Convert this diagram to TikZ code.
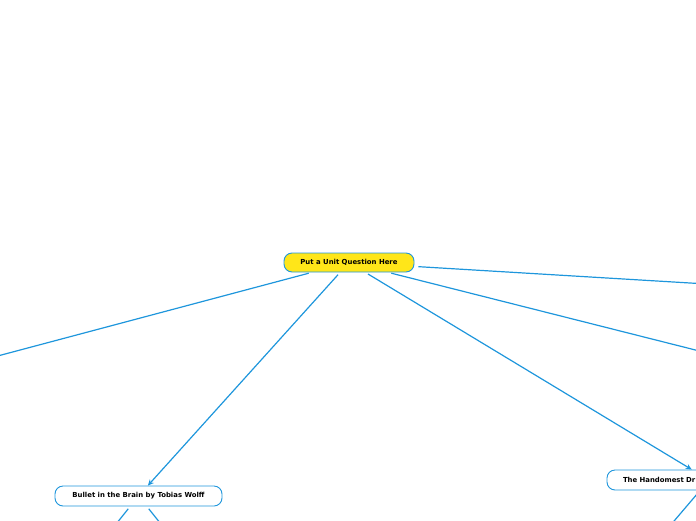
\documentclass[tikz,border=0pt]{standalone}
\usepackage{fontspec}
\setmainfont{DejaVu Sans}
\usetikzlibrary{arrows.meta}
\definecolor{lineblue}{HTML}{1E96DC}
\definecolor{mainyellow}{HTML}{FFE619}
\tikzset{
  topic/.style={draw=lineblue, line width=0.9pt, rounded corners=8pt, fill=white,
    font=\fontsize{6.9}{8}\selectfont\bfseries, inner sep=0pt},
  link/.style={draw=lineblue, line width=1.2pt},
  arrowlink/.style={link, -{Stealth[length=6pt,width=5.5pt]}},
}
\begin{document}
\begin{tikzpicture}[x=1pt,y=-1pt]
\useasboundingbox (0,0) rectangle (696,520);
\clip (0,0) rectangle (696,520);
\node[topic, fill=mainyellow, minimum width=130pt, minimum height=19pt] (root) at (349,262.5) {Put a Unit Question Here};
\node[topic, minimum width=167pt, minimum height=20pt] (bullet) at (138.5,496) {Bullet in the Brain by Tobias Wolff};
\node[topic, minimum width=204pt, minimum height=20pt, text width=172pt, align=left] (hand) at (709,480) {The Handomest Dr};
\coordinate (leftend) at (-40,366);
\coordinate (rightA) at (760,287.2);
\coordinate (rightB) at (760,366.3);
\coordinate (bulletA) at (98.5,546);
\coordinate (bulletB) at (178.5,546);
\coordinate (handA) at (663,534);
\draw[link, shorten <=3pt] (root) -- (leftend);
\draw[link, shorten <=4pt] (root) -- (rightA);
\draw[link, shorten <=3pt] (root) -- (rightB);
\draw[arrowlink, shorten <=3pt] (root) -- (bullet);
\draw[arrowlink, shorten <=3pt] (root) -- (hand);
\draw[link, shorten <=3pt] (bullet) -- (bulletA);
\draw[link, shorten <=3pt] (bullet) -- (bulletB);
\draw[link, shorten <=3pt] (hand) -- (handA);
\end{tikzpicture}
\end{document}
